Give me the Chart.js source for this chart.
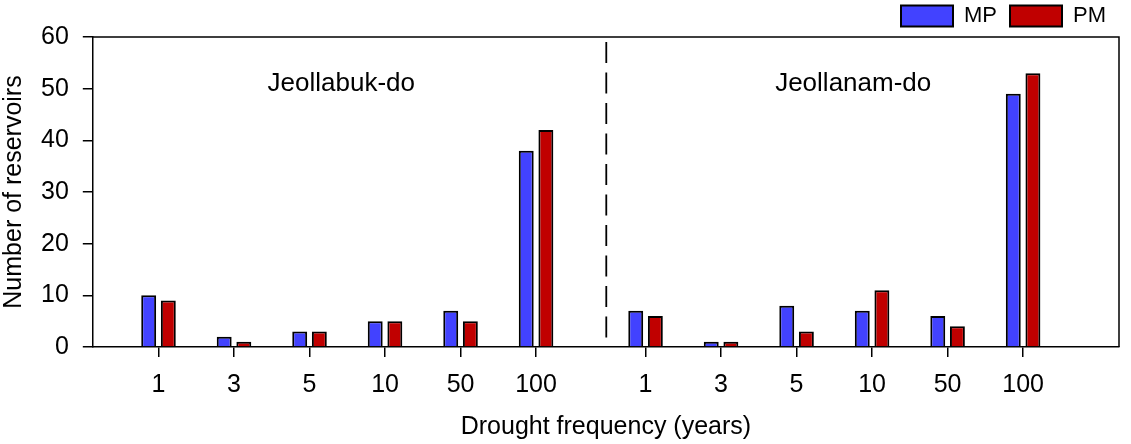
<!DOCTYPE html>
<html>
<head>
<meta charset="utf-8">
<script src="https://cdn.jsdelivr.net/npm/chart.js@4"></script>
<style>
  html, body { margin: 0; padding: 0; background: #fff; }
  #wrap { width: 1131px; height: 444px; }
</style>
</head>
<body>
<div id="wrap"><canvas id="grafico"></canvas></div>
<script>
// dados
const tickLabels = ['1', '3', '5', '10', '50', '100', '1', '3', '5', '10', '50', '100'];
const positions = [1, 2, 3, 4, 5, 6, 7.45, 8.45, 9.45, 10.45, 11.45, 12.45];
const mp = [10, 2, 3, 5, 7, 38, 7, 1, 8, 7, 6, 49];
const pm = [9, 1, 3, 5, 5, 42, 6, 1, 3, 11, 4, 53];
const regions = ['Jeollabuk-do', 'Jeollanam-do'];
const regionX = [3.42, 10.2];
const divisorX = 6.93;

const familia = 'Liberation Sans, Arial, sans-serif';
const fonte = { family: familia, size: 25 };
const fonteTitulo = { family: familia, size: 25, lineHeight: 1 };
const fonteLegenda = { family: familia, size: 22 };

function pontos(vals) {
  return vals.map((v, i) => ({ x: positions[i], y: v }));
}

// moldura, linha tracejada e nomes das regioes
const extras = {
  id: 'extras',
  afterDatasetsDraw(chart) {
    const c = chart.ctx;
    const a = chart.chartArea;
    const xs = chart.scales.x;
    const ys = chart.scales.y;
    c.save();
    c.strokeStyle = '#000';
    c.lineWidth = 1.5;
    c.beginPath();
    c.moveTo(a.left, a.top);
    c.lineTo(a.right, a.top);
    c.lineTo(a.right, a.bottom);
    c.stroke();

    const xd = xs.getPixelForValue(divisorX);
    c.setLineDash([21, 9.5]);
    c.lineWidth = 1.8;
    c.beginPath();
    c.moveTo(xd, a.top + 5);
    c.lineTo(xd, a.bottom - 9);
    c.stroke();
    c.setLineDash([]);

    c.fillStyle = '#000';
    c.font = '26px ' + familia;
    c.textAlign = 'center';
    c.textBaseline = 'middle';
    for (let i = 0; i < regions.length; i++) {
      c.fillText(regions[i], xs.getPixelForValue(regionX[i]), ys.getPixelForValue(51));
    }
    c.restore();
  }
};

new Chart(document.getElementById('grafico'), {
  type: 'bar',
  data: {
    datasets: [{
      label: 'MP',
      data: pontos(mp),
      backgroundColor: '#4242FF',
      borderColor: '#000',
      borderWidth: 2,
      categoryPercentage: 0.52,
      barPercentage: 0.76
    }, {
      label: 'PM',
      data: pontos(pm),
      backgroundColor: '#C00000',
      borderColor: '#000',
      borderWidth: 2,
      categoryPercentage: 0.52,
      barPercentage: 0.76
    }]
  },
  options: {
    responsive: true,
    maintainAspectRatio: false,
    animation: false,
    layout: { padding: { left: 2, right: 12, top: -8, bottom: 4 } },
    plugins: {
      tooltip: { enabled: false },
      legend: {
        position: 'top',
        align: 'end',
        labels: {
          boxWidth: 52,
          boxHeight: 21,
          padding: 13,
          color: '#000',
          font: fonteLegenda
        }
      }
    },
    scales: {
      x: {
        type: 'linear',
        offset: false,
        min: 0.13,
        max: 13.72,
        afterBuildTicks(s) {
          s.ticks = positions.map(v => ({ value: v }));
        },
        grid: { offset: false, display: true, drawOnChartArea: false, drawTicks: true, tickLength: 10, color: '#000', lineWidth: 1.5 },
        border: { display: true, color: '#000', width: 1.5 },
        ticks: {
          color: '#000',
          font: fonte,
          padding: 13,
          autoSkip: false,
          maxRotation: 0,
          callback: (v, i) => tickLabels[i]
        },
        title: {
          display: true,
          text: 'Drought frequency (years)',
          color: '#000',
          font: fonteTitulo,
          padding: { top: 2, bottom: 0 }
        }
      },
      y: {
        min: 0,
        max: 60,
        ticks: { stepSize: 10, color: '#000', font: fonte, padding: 14 },
        grid: { display: true, drawOnChartArea: false, drawTicks: true, tickLength: 10, color: '#000', lineWidth: 1.5 },
        border: { display: true, color: '#000', width: 1.5 },
        title: {
          display: true,
          text: 'Number of reservoirs',
          color: '#000',
          font: fonteTitulo,
          padding: { top: 0, bottom: 0 }
        }
      }
    }
  },
  plugins: [extras]
});
</script>
</body>
</html>
